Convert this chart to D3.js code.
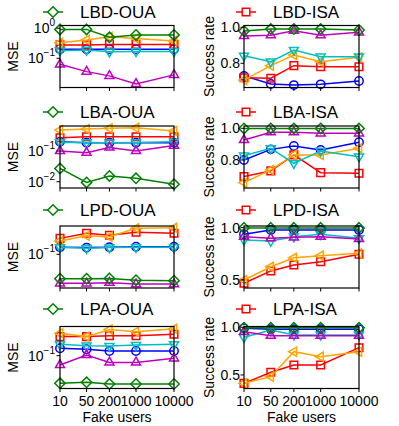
<!DOCTYPE html>
<html lang="en">
<head>
<meta charset="UTF-8">
<title>Fake users</title>
<style>
  body { margin: 0; background: #fff; }
  text { font-family: "Liberation Sans", Arial, sans-serif; fill: #000; }
</style>
</head>
<body>
<svg width="399" height="426"></svg>
<script src="https://cdn.jsdelivr.net/npm/d3@7/dist/d3.min.js"></script>
<script>

    // x values (log spaced)
    var fakeUsers = [10, 50, 200, 1000, 10000];

    // series order: blue o, red s, orange <, cyan v, magenta ^, green D
    var seriesColors = ["#0000ff", "#ff0000", "#ffa500", "#00bfbf", "#bf00bf", "#008000"];
    var seriesMarkers = ["circle", "square", "left", "down", "up", "diamond"];

    var panelTitles = ["LBD-OUA", "LBD-ISA", "LBA-OUA", "LBA-ISA", "LPD-OUA", "LPD-ISA", "LPA-OUA", "LPA-ISA"];

    // MSE panels
    var lbdOua = [
        [0.20, 0.20, 0.20, 0.20, 0.20],
        [0.28, 0.28, 0.29, 0.29, 0.29],
        [0.33, 0.41, 0.52, 0.46, 0.38],
        [0.18, 0.19, 0.166, 0.17, 0.17],
        [0.063, 0.036, 0.026, 0.014, 0.028],
        [0.92, 0.92, 0.50, 0.60, 0.60]
    ];
    var lbaOua = [
        [0.20, 0.186, 0.186, 0.186, 0.186],
        [0.27, 0.29, 0.29, 0.29, 0.29],
        [0.48, 0.52, 0.55, 0.57, 0.45],
        [0.19, 0.19, 0.186, 0.19, 0.20],
        [0.10, 0.088, 0.13, 0.10, 0.15],
        [0.027, 0.0095, 0.0154, 0.0129, 0.0083]
    ];
    var lpdOua = [
        [0.15, 0.147, 0.15, 0.155, 0.155],
        [0.25, 0.335, 0.30, 0.355, 0.335],
        [0.215, 0.29, 0.275, 0.447, 0.46],
        [0.15, 0.142, 0.147, 0.15, 0.15],
        [0.0188, 0.0188, 0.0195, 0.018, 0.018],
        [0.0245, 0.0245, 0.025, 0.0225, 0.0219]
    ];
    var lpaOua = [
        [0.153, 0.145, 0.131, 0.131, 0.131],
        [0.30, 0.30, 0.316, 0.316, 0.343],
        [0.363, 0.30, 0.452, 0.398, 0.47],
        [0.193, 0.178, 0.175, 0.185, 0.193],
        [0.0585, 0.104, 0.068, 0.068, 0.086],
        [0.0204, 0.0216, 0.0196, 0.0196, 0.0196]
    ];

    // success rate panels
    var lbdIsa = [
        [0.73, 0.685, 0.679, 0.683, 0.702],
        [0.72, 0.717, 0.787, 0.781, 0.781],
        [0.707, 0.787, 0.846, 0.809, 0.833],
        [0.842, 0.809, 0.874, 0.837, 0.837],
        [0.952, 0.956, 0.981, 0.956, 0.972],
        [0.979, 0.99, 0.99, 0.99, 0.985]
    ];
    var lbaIsa = [
        [0.80, 0.867, 0.888, 0.863, 0.912],
        [0.695, 0.731, 0.832, 0.72, 0.716],
        [0.657, 0.737, 0.832, 0.832, 0.874],
        [0.827, 0.874, 0.779, 0.857, 0.821],
        [0.926, 0.975, 0.975, 0.968, 0.968],
        [0.999, 0.999, 0.999, 0.999, 0.999]
    ];
    var lpdIsa = [
        [0.937, 0.978, 0.978, 0.978, 0.978],
        [0.469, 0.587, 0.644, 0.675, 0.746],
        [0.50, 0.627, 0.713, 0.733, 0.755],
        [0.883, 0.873, 0.914, 0.937, 0.899],
        [0.914, 0.899, 0.908, 0.914, 0.892],
        [0.998, 0.998, 0.998, 0.998, 0.998]
    ];
    var lpaIsa = [
        [0.99, 0.98, 0.98, 0.98, 0.98],
        [0.412, 0.528, 0.604, 0.604, 0.786],
        [0.412, 0.482, 0.744, 0.692, 0.744],
        [0.895, 0.97, 0.92, 0.92, 0.92],
        [0.954, 0.912, 0.912, 0.912, 0.912],
        [0.995, 0.995, 0.995, 0.995, 0.995]
    ];

    var panelData = [lbdOua, lbdIsa, lbaOua, lbaIsa, lpdOua, lpdIsa, lpaOua, lpaIsa];

    // y-axis domains (log exponents for MSE, linear for success rate)
    var mseDomains = [[-1.973, 0.093], [-2.205, -0.186], [-1.8425, -0.2925], [-1.82, -0.27]];
    var rateDomains = [[0.6656, 1.01], [0.623, 1.0145], [0.424, 1.016], [0.358, 1.008]];
    var rateTicks = [[0.8, 1.0], [0.8, 1.0], [0.5, 1.0], [0.5, 1.0]];

    // layout
    var rowTops = [25.5, 126, 226, 326.5],
        plotH = 62,
        legendY = [12, 112, 210, 309],
        colX = [[60, 174], [244, 359]];

    var svg = d3.select("svg");

    function markerPath(type) {
        var r;
        if (type === "circle") {
            r = 4.2;
            return "M" + r + ",0A" + r + "," + r + " 0 1,1 " + (-r) + ",0A" + r + "," + r + " 0 1,1 " + r + ",0Z";
        }
        if (type === "square") {
            r = 3.8;
            return "M" + -r + "," + -r + "H" + r + "V" + r + "H" + -r + "Z";
        }
        if (type === "diamond") {
            r = 5.2;
            return "M0," + -r + "L" + r + ",0L0," + r + "L" + -r + ",0Z";
        }
        r = 5.2;
        var a = r * 0.866, b = r * 0.5;
        if (type === "up") return "M0," + -r + "L" + a + "," + b + "L" + -a + "," + b + "Z";
        if (type === "down") return "M0," + r + "L" + a + "," + -b + "L" + -a + "," + -b + "Z";
        return "M" + -r + ",0L" + b + "," + -a + "L" + b + "," + a + "Z";
    }

    panelData.forEach(function(data, i) {
        var row = Math.floor(i / 2), col = i % 2;
        var top = rowTops[row], bottom = top + plotH;
        var x0 = colX[col][0], x1 = colX[col][1];

        var xScale = d3.scaleLog().domain([10, 10000]).range([x0, x1]);
        var yScale;
        if (col === 0) {
            yScale = d3.scaleLog()
                .domain([Math.pow(10, mseDomains[row][0]), Math.pow(10, mseDomains[row][1])])
                .range([bottom, top]);
        } else {
            yScale = d3.scaleLinear().domain(rateDomains[row]).range([bottom, top]);
        }

        var g = svg.append("g");

        // series
        var line = d3.line()
            .x(function(d, k) { return xScale(fakeUsers[k]); })
            .y(function(d) { return yScale(d); });

        data.forEach(function(vals, s) {
            g.append("path")
                .attr("d", line(vals))
                .attr("fill", "none")
                .attr("stroke", seriesColors[s])
                .attr("stroke-width", 1.5);
            g.selectAll(null)
                .data(vals)
                .enter()
                .append("path")
                .attr("transform", function(d, k) { return "translate(" + xScale(fakeUsers[k]) + "," + yScale(d) + ")"; })
                .attr("d", markerPath(seriesMarkers[s]))
                .attr("fill", "none")
                .attr("stroke", seriesColors[s])
                .attr("stroke-width", 1.5);
        });

        // frame
        g.append("rect")
            .attr("x", x0).attr("y", top)
            .attr("width", x1 - x0).attr("height", plotH)
            .attr("fill", "none")
            .attr("stroke", "#000")
            .attr("stroke-width", 1.2);

        // y ticks
        if (col === 0) {
            var lo = Math.ceil(mseDomains[row][0]), hi = Math.floor(mseDomains[row][1]);
            for (var e = lo; e <= hi; e++) {
                var yy = yScale(Math.pow(10, e));
                g.append("line").attr("x1", x0 - 3.5).attr("x2", x0).attr("y1", yy).attr("y2", yy)
                    .attr("stroke", "#000").attr("stroke-width", 1);
                var t = g.append("text")
                    .attr("x", x0 - 5)
                    .attr("y", yy + 5)
                    .attr("text-anchor", "end")
                    .attr("font-size", 14);
                t.append("tspan").text("10");
                t.append("tspan").attr("dy", -7).attr("font-size", 10).text(e === 0 ? "0" : "\u2212" + (-e));
            }
            g.append("text")
                .attr("transform", "translate(18," + (top + plotH / 2) + ") rotate(-90)")
                .attr("text-anchor", "middle")
                .attr("font-size", 14)
                .text("MSE");
        } else {
            rateTicks[row].forEach(function(v) {
                var yy = yScale(v);
                g.append("line").attr("x1", x0 - 3.5).attr("x2", x0).attr("y1", yy).attr("y2", yy)
                    .attr("stroke", "#000").attr("stroke-width", 1);
                g.append("text")
                    .attr("x", x0 - 4)
                    .attr("y", yy + 5)
                    .attr("text-anchor", "end")
                    .attr("font-size", 14)
                    .text(d3.format(".1f")(v));
            });
            g.append("text")
                .attr("transform", "translate(214," + (top + plotH / 2) + ") rotate(-90)")
                .attr("text-anchor", "middle")
                .attr("font-size", 14)
                .text("Success rate");
        }

        // x ticks (bottom row shows labels)
        fakeUsers.forEach(function(u) {
            var xx = xScale(u);
            g.append("line").attr("x1", xx).attr("x2", xx).attr("y1", bottom).attr("y2", bottom + 3.5)
                .attr("stroke", "#000").attr("stroke-width", 1);
            if (row === 3) {
                g.append("text")
                    .attr("x", xx)
                    .attr("y", bottom + 17)
                    .attr("text-anchor", "middle")
                    .attr("font-size", 14)
                    .text(u);
            }
        });
        if (row === 3) {
            g.append("text")
                .attr("x", (x0 + x1) / 2)
                .attr("y", bottom + 33)
                .attr("text-anchor", "middle")
                .attr("font-size", 14)
                .text("Fake users");
        }

        // legend: one entry per panel
        var ls = col === 0 ? 5 : 1;
        var lx = col === 0 ? 43 : 236;
        var ly = legendY[row];
        g.append("line").attr("x1", lx).attr("x2", lx + 20).attr("y1", ly).attr("y2", ly)
            .attr("stroke", seriesColors[ls]).attr("stroke-width", 1.5);
        g.append("path")
            .attr("transform", "translate(" + (lx + 10) + "," + ly + ")")
            .attr("d", markerPath(seriesMarkers[ls]))
            .attr("fill", "#fff")
            .attr("stroke", seriesColors[ls])
            .attr("stroke-width", 1.5);
        g.append("text")
            .attr("x", lx + 37)
            .attr("y", ly + 6)
            .attr("font-size", 17)
            .text(panelTitles[i]);
    });
</script>
</body>
</html>
